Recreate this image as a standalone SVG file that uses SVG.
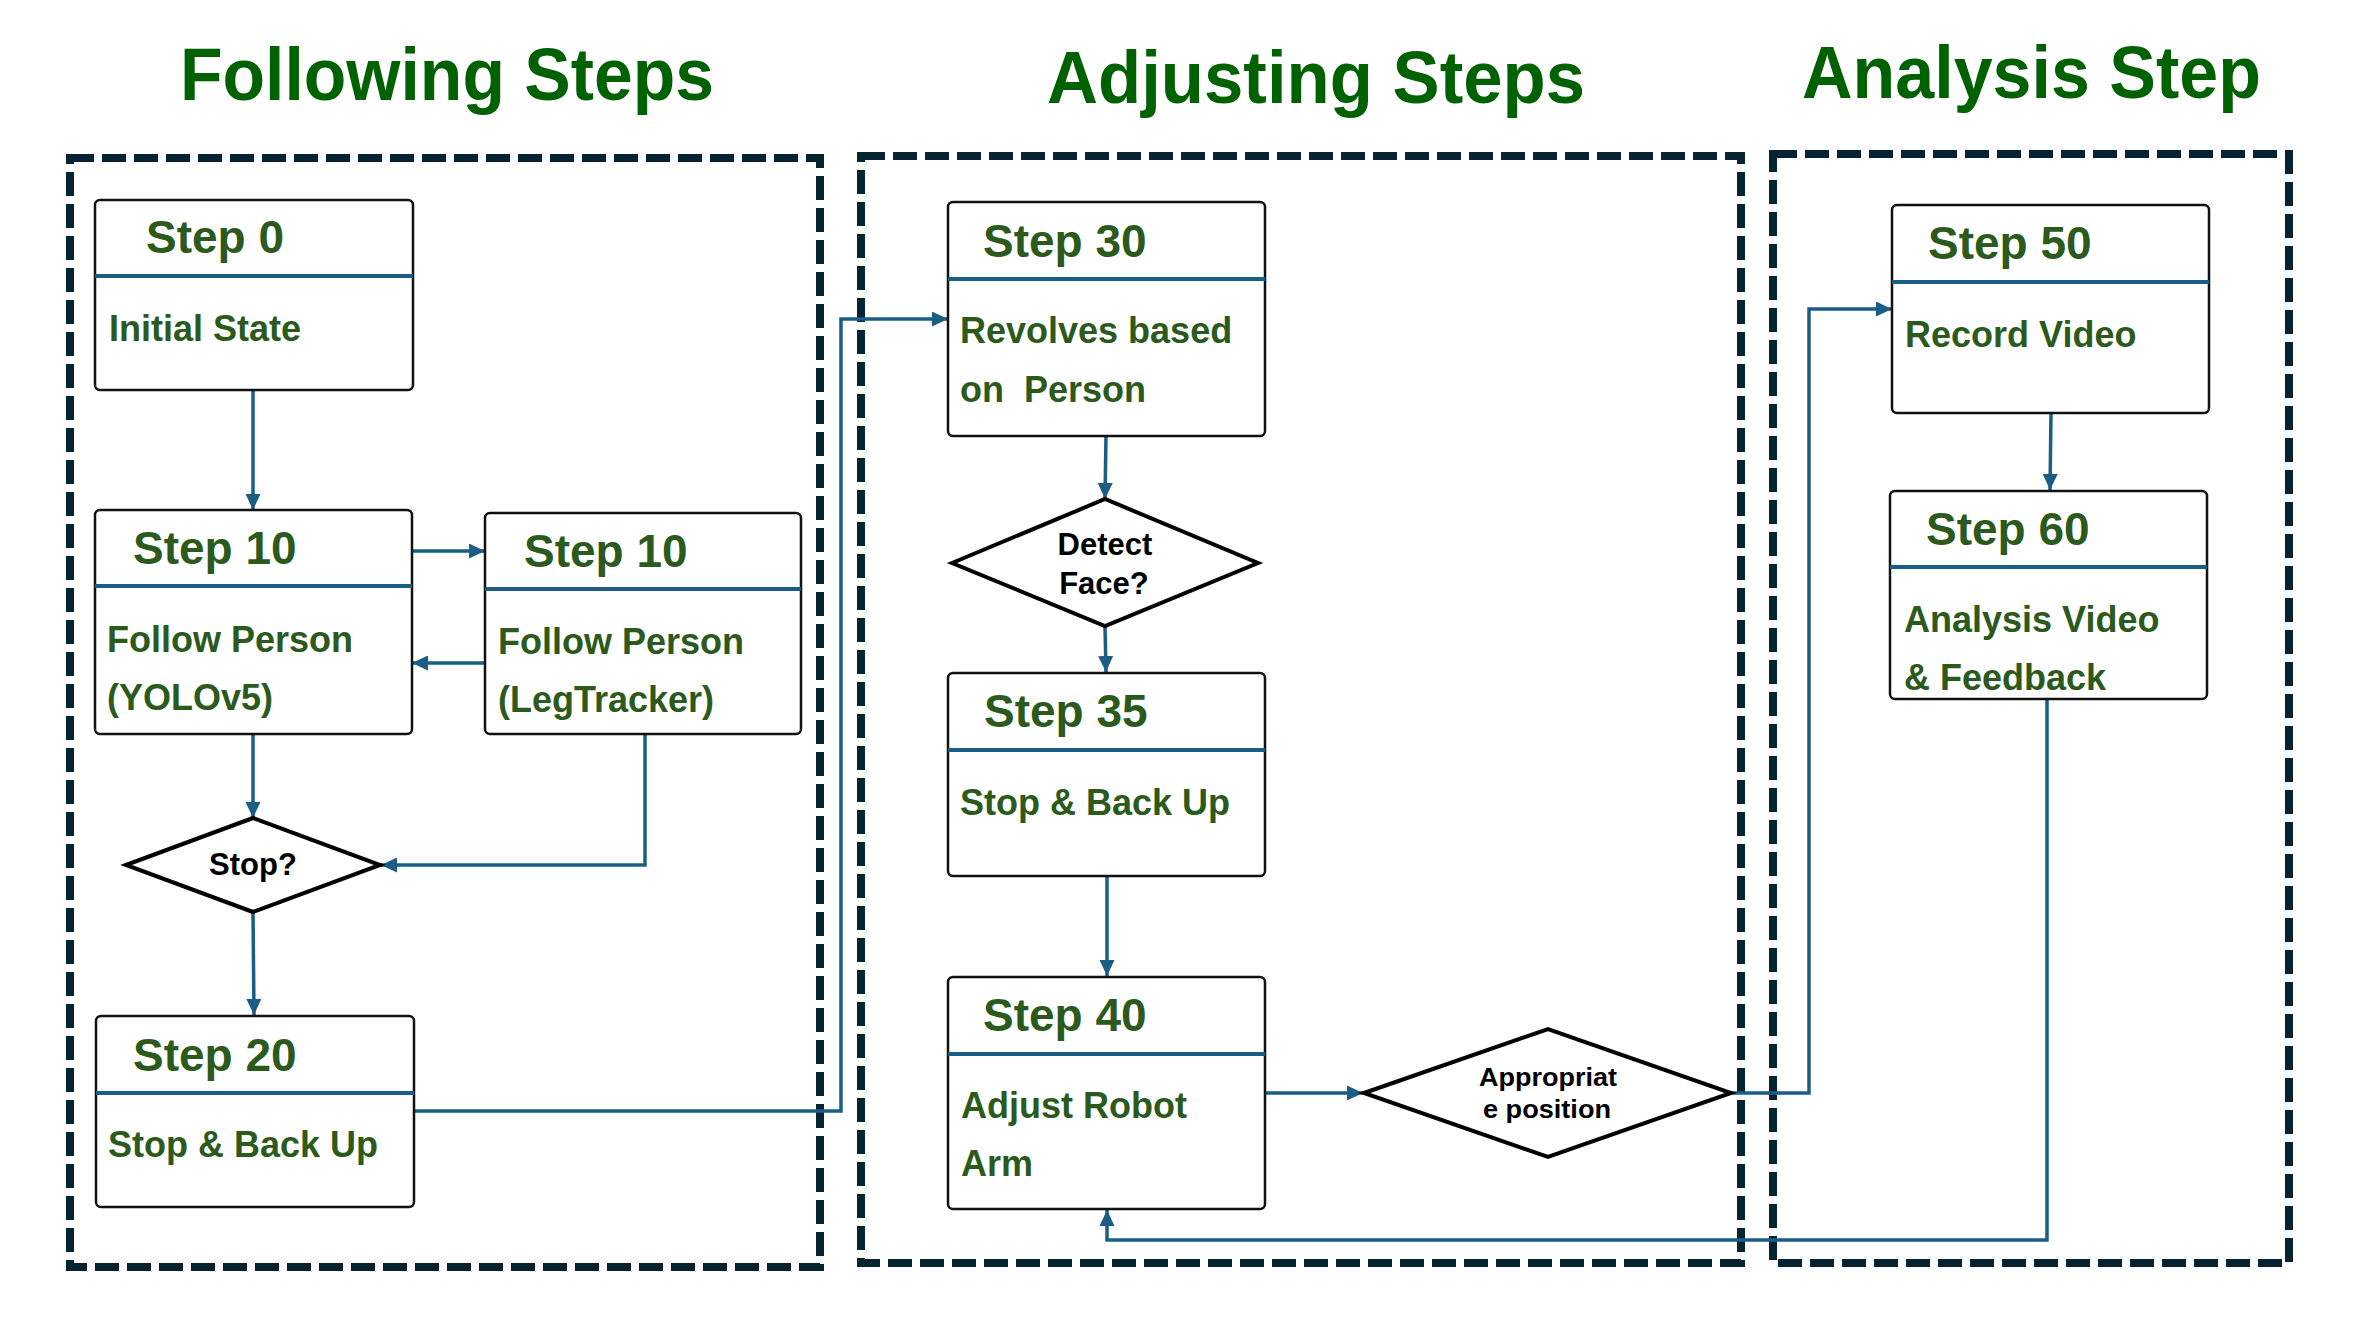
<svg xmlns="http://www.w3.org/2000/svg" width="2380" height="1323" viewBox="0 0 2380 1323">
<style>
.title{font-family:"Liberation Sans",Arial,sans-serif;font-weight:bold;font-size:74px;fill:#006100}
.lane{fill:none;stroke:#062332;stroke-width:8;stroke-dasharray:24 8}
.box{fill:#ffffff;stroke:#111111;stroke-width:2.5}
.div{stroke:#1a5e85;stroke-width:4}
.hd{font-family:"Liberation Sans",Arial,sans-serif;font-weight:bold;font-size:46px;fill:#2b5a1c}
.bd{font-family:"Liberation Sans",Arial,sans-serif;font-weight:bold;font-size:36px;fill:#2b5a1c}
.dia{fill:#ffffff;stroke:#000000;stroke-width:4;stroke-linejoin:miter}
.dt{font-family:"Liberation Sans",Arial,sans-serif;font-weight:bold;font-size:31px;fill:#000000;text-anchor:middle}
.dts{font-family:"Liberation Sans",Arial,sans-serif;font-weight:bold;font-size:26px;fill:#000000;text-anchor:middle}
.con{fill:none;stroke:#1a5e85;stroke-width:3.5;marker-end:url(#ah)}
</style>
<defs>
<marker id="ah" markerUnits="userSpaceOnUse" markerWidth="17" markerHeight="15" refX="16" refY="7.5" orient="auto">
<path d="M0,0 L16,7.5 L0,15 Z" fill="#1a5e85"/>
</marker>
</defs>
<rect width="2380" height="1323" fill="#ffffff"/>

<g id="titles">
<text class="title" x="180" y="100" textLength="534" lengthAdjust="spacingAndGlyphs">Following Steps</text>
<text class="title" x="1047" y="103" textLength="538" lengthAdjust="spacingAndGlyphs">Adjusting Steps</text>
<text class="title" x="1802" y="98" textLength="459" lengthAdjust="spacingAndGlyphs">Analysis Step</text>
</g>

<g id="lanes">
<rect id="lane-following" class="lane" x="70" y="158" width="750" height="1109"/>
<rect id="lane-adjusting" class="lane" x="861" y="156" width="880" height="1107"/>
<rect id="lane-analysis" class="lane" x="1773" y="154" width="516" height="1109"/>
</g>

<g id="connectors">
<path class="con" d="M253,391 L253,510"/>
<path class="con" d="M412,551 L485,551"/>
<path class="con" d="M485,663 L412,663"/>
<path class="con" d="M253,734 L253,818"/>
<path class="con" d="M645,734 L645,865 L381,865"/>
<path class="con" d="M253,912 L254,1015"/>
<path class="con" d="M414,1111 L841,1111 L841,319 L948,319"/>
<path class="con" d="M1106,436 L1105,499"/>
<path class="con" d="M1105,626 L1106,672"/>
<path class="con" d="M1107,876 L1107,976"/>
<path class="con" d="M1265,1093 L1363,1093"/>
<path class="con" d="M1731,1093 L1809,1093 L1809,309 L1892,309"/>
<path class="con" d="M2051,413 L2050,490"/>
<path class="con" d="M2047,699 L2047,1240 L1107,1240 L1107,1210"/>
</g>

<g id="step0">
<rect class="box" x="95" y="200" width="318" height="190" rx="5"/>
<line class="div" x1="95" y1="276" x2="413" y2="276"/>
<text class="hd" x="146" y="253">Step 0</text>
<text class="bd" x="109" y="341">Initial State</text>
</g>

<g id="step10-yolo">
<rect class="box" x="95" y="510" width="317" height="224" rx="5"/>
<line class="div" x1="95" y1="586" x2="412" y2="586"/>
<text class="hd" x="133" y="564">Step 10</text>
<text class="bd" x="107" y="652">Follow Person</text>
<text class="bd" x="107" y="710">(YOLOv5)</text>
</g>

<g id="step10-leg">
<rect class="box" x="485" y="513" width="316" height="221" rx="5"/>
<line class="div" x1="485" y1="589" x2="801" y2="589"/>
<text class="hd" x="524" y="567">Step 10</text>
<text class="bd" x="498" y="654">Follow Person</text>
<text class="bd" x="498" y="712">(LegTracker)</text>
</g>

<g id="stop-decision">
<polygon class="dia" points="126,865 253,818 380,865 253,912"/>
<text class="dt" x="253" y="875">Stop?</text>
</g>

<g id="step20">
<rect class="box" x="96" y="1016" width="318" height="191" rx="5"/>
<line class="div" x1="96" y1="1093" x2="414" y2="1093"/>
<text class="hd" x="133" y="1071">Step 20</text>
<text class="bd" x="108" y="1157">Stop &amp; Back Up</text>
</g>

<g id="step30">
<rect class="box" x="948" y="202" width="317" height="234" rx="5"/>
<line class="div" x1="948" y1="279" x2="1265" y2="279"/>
<text class="hd" x="983" y="257">Step 30</text>
<text class="bd" x="960" y="343">Revolves based</text>
<text class="bd" x="960" y="402" xml:space="preserve">on  Person</text>
</g>

<g id="face-decision">
<polygon class="dia" points="952,563 1105,499 1258,563 1105,626"/>
<text class="dt" x="1105" y="555">Detect</text>
<text class="dt" x="1104" y="594">Face?</text>
</g>

<g id="step35">
<rect class="box" x="948" y="673" width="317" height="203" rx="5"/>
<line class="div" x1="948" y1="750" x2="1265" y2="750"/>
<text class="hd" x="984" y="727">Step 35</text>
<text class="bd" x="960" y="815">Stop &amp; Back Up</text>
</g>

<g id="step40">
<rect class="box" x="948" y="977" width="317" height="232" rx="5"/>
<line class="div" x1="948" y1="1054" x2="1265" y2="1054"/>
<text class="hd" x="983" y="1031">Step 40</text>
<text class="bd" x="961" y="1118">Adjust Robot</text>
<text class="bd" x="961" y="1176">Arm</text>
</g>

<g id="position-decision">
<polygon class="dia" points="1364,1093 1548,1029 1731,1093 1548,1157"/>
<text class="dts" x="1548" y="1086" textLength="138" lengthAdjust="spacingAndGlyphs">Appropriat</text>
<text class="dts" x="1547" y="1118" textLength="128" lengthAdjust="spacingAndGlyphs">e position</text>
</g>

<g id="step50">
<rect class="box" x="1892" y="205" width="317" height="208" rx="5"/>
<line class="div" x1="1892" y1="282" x2="2209" y2="282"/>
<text class="hd" x="1928" y="259">Step 50</text>
<text class="bd" x="1905" y="347">Record Video</text>
</g>

<g id="step60">
<rect class="box" x="1890" y="491" width="317" height="208" rx="5"/>
<line class="div" x1="1890" y1="567" x2="2207" y2="567"/>
<text class="hd" x="1926" y="545">Step 60</text>
<text class="bd" x="1904" y="632">Analysis Video</text>
<text class="bd" x="1904" y="690">&amp; Feedback</text>
</g>
</svg>
